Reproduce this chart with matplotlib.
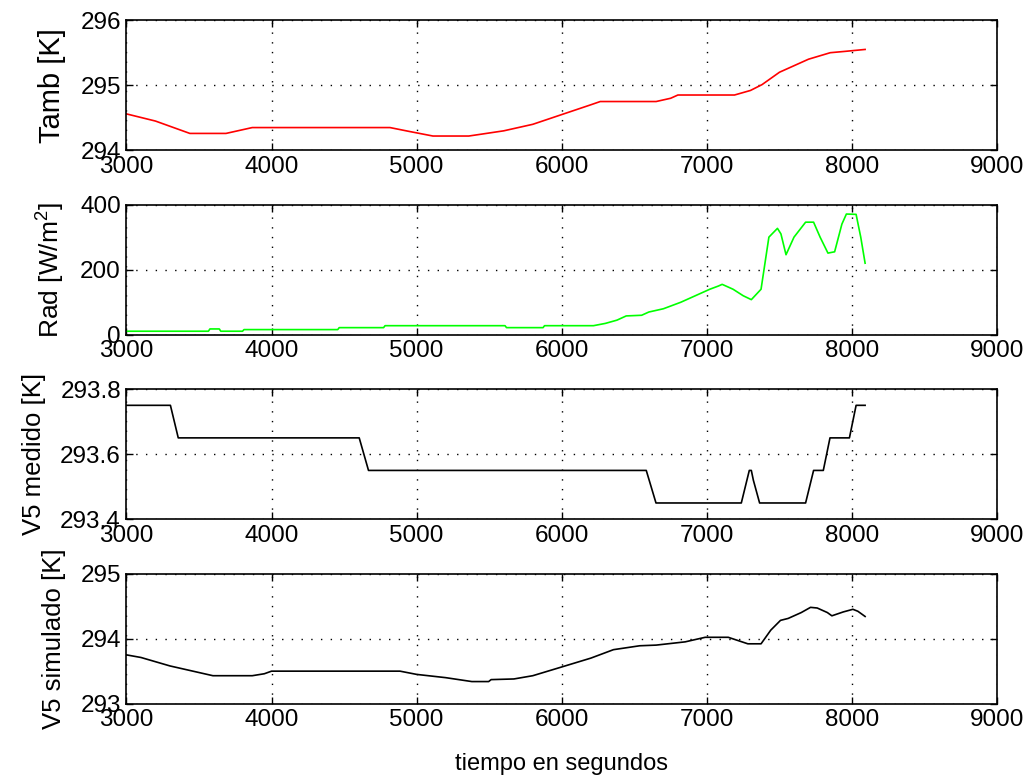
import numpy as np
import matplotlib
matplotlib.use('Agg')
import matplotlib.pyplot as plt

plt.rcParams['font.family'] = ['Liberation Sans', 'DejaVu Sans']
plt.rcParams['mathtext.fontset'] = 'custom'
plt.rcParams['mathtext.rm'] = 'Liberation Sans'

###############################################################################
# data ########################################################################
t_amb = [3000, 3200, 3437, 3686, 3867, 4816, 4950, 5112, 5359, 5450, 5600, 5800,
         6000, 6200, 6265, 6650, 6750, 6800, 7190, 7300, 7380, 7500, 7700, 7850,
         7950, 8090]
v_amb = [294.56, 294.45, 294.26, 294.26, 294.35, 294.35, 294.29, 294.22, 294.22,
         294.25, 294.30, 294.40, 294.55, 294.70, 294.75, 294.75, 294.80, 294.85,
         294.85, 294.92, 295.01, 295.20, 295.40, 295.50, 295.52, 295.55]

t_rad = [3000, 3565, 3575, 3640, 3650, 3800, 3810, 4456, 4466, 4772, 4782, 5609,
         5619, 5871, 5881, 6218, 6300, 6380, 6444, 6550, 6600, 6700, 6820, 6920,
         7020, 7080, 7105, 7180, 7250, 7306, 7373, 7427, 7486, 7510, 7545, 7600,
         7680, 7735, 7780, 7834, 7880, 7930, 7961, 8028, 8060, 8090]
v_rad = [11, 11, 18, 18, 11, 11, 16, 16, 22, 22, 28, 28, 22, 22, 28, 28, 35, 45,
         58, 60, 70, 80, 100, 120, 140, 150, 155, 140, 120, 108, 140, 300, 327,
         310, 246, 300, 346, 346, 300, 251, 255, 340, 371, 370, 300, 220]

t_med = [3000, 3303, 3357, 4604, 4668, 6582, 6649, 7237, 7292, 7306, 7320, 7363,
         7680, 7735, 7802, 7848, 7982, 8028, 8090]
v_med = [293.75, 293.75, 293.65, 293.65, 293.55, 293.55, 293.45, 293.45, 293.55,
         293.55, 293.52, 293.45, 293.45, 293.55, 293.55, 293.65, 293.65, 293.75,
         293.75]

t_sim = [3000, 3100, 3300, 3596, 3867, 3950, 4000, 4885, 5000, 5200, 5380, 5496,
         5513, 5670, 5800, 5993, 6200, 6356, 6537, 6650, 6850, 6988, 7147, 7282,
         7373, 7440, 7507, 7560, 7650, 7714, 7760, 7830, 7861, 7940, 8006, 8040,
         8090]
v_sim = [293.75, 293.71, 293.58, 293.43, 293.43, 293.46, 293.50, 293.50, 293.45,
         293.40, 293.34, 293.34, 293.37, 293.38, 293.43, 293.56, 293.70, 293.83,
         293.89, 293.90, 293.95, 294.02, 294.02, 293.92, 293.92, 294.13, 294.28,
         294.31, 294.40, 294.48, 294.47, 294.40, 294.35, 294.41, 294.45, 294.42,
         294.34]

xticks = [3000, 4000, 5000, 6000, 7000, 8000, 9000]

panels = [
    (t_amb, v_amb, '#ff0000', 'Tamb [K]', 21, [294, 295, 296], ['294', '295', '296']),
    (t_rad, v_rad, '#00ff00', 'Rad [W/m$^2$]', 19, [0, 200, 400], ['0', '200', '400']),
    (t_med, v_med, '#000000', 'V5 medido [K]', 18.5, [293.4, 293.6, 293.8], ['293.4', '293.6', '293.8']),
    (t_sim, v_sim, '#000000', 'V5 simulado [K]', 18.5, [293, 294, 295], ['293', '294', '295']),
]

# axes bottoms in figure fractions
bottoms = [0.806, 0.568, 0.330, 0.092]

fig = plt.figure(figsize=(10.28, 7.75), dpi=100)
for i, (t, v, col, lab, lsize, yt, ytl) in enumerate(panels):
    ax = fig.add_axes([0.123, bottoms[i], 0.847, 0.168])
    ax.plot(t, v, color=col, lw=1.2)
    ax.set_xlim(3000, 9000)
    ax.set_ylim(yt[0], yt[-1])
    ax.set_xticks(xticks)
    ax.set_yticks(yt)
    ax.set_yticklabels(ytl)
    ax.tick_params(direction='in', top=True, right=True, labelsize=17.5,
                   length=5, width=1, pad=4)
    ax.grid(True, color='black', linestyle=(0, (1, 6)), lw=1)
    for s in ax.spines.values():
        s.set_linewidth(1.2)
    ax.set_ylabel(lab, fontsize=lsize, labelpad=10)
    if i == 3:
        ax.set_xlabel('tiempo en segundos', fontsize=17, labelpad=16)

fig.savefig('out.png', dpi=100)
